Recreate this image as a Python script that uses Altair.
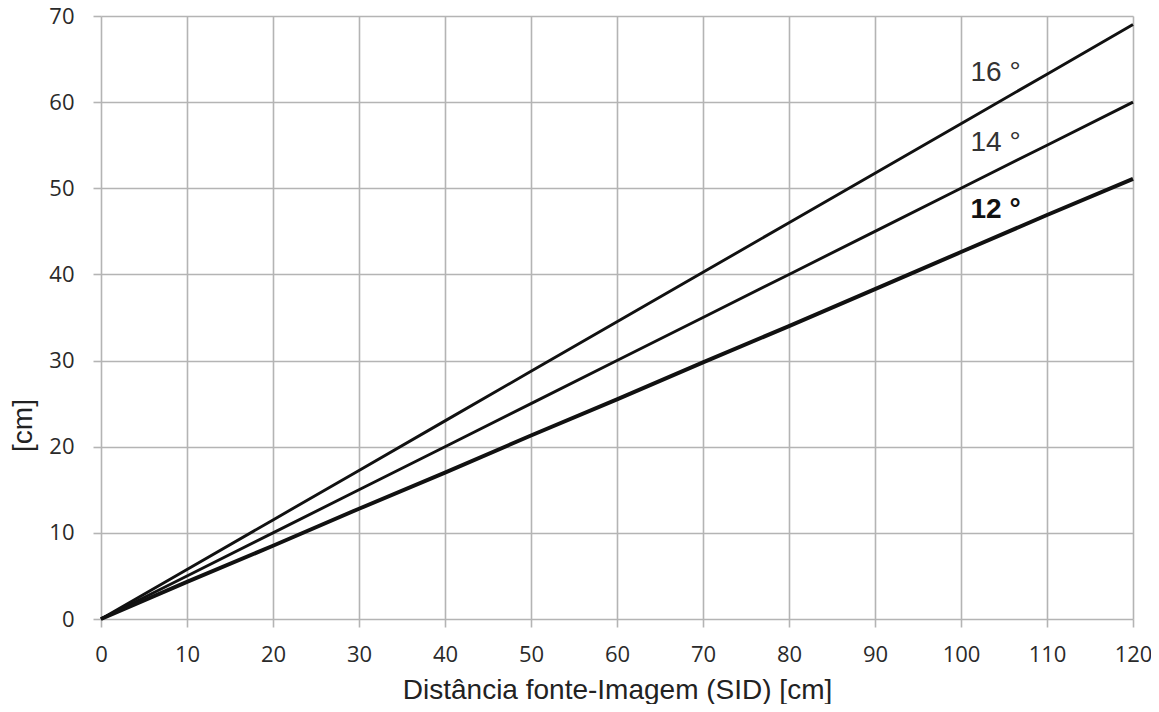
import altair as alt
import pandas as pd

sid = [0, 10, 20, 30, 40, 50, 60, 70, 80, 90, 100, 110, 120]
y16 = [0, 5.75, 11.5, 17.25, 23.0, 28.75, 34.5, 40.25, 46.0, 51.75, 57.5, 63.25, 69.0]
y14 = [0, 5.0, 10.0, 15.0, 20.0, 25.0, 30.0, 35.0, 40.0, 45.0, 50.0, 55.0, 60.0]
y12 = [0, 4.3, 8.5, 12.8, 17.0, 21.3, 25.5, 29.8, 34.0, 38.3, 42.6, 46.9, 51.1]

labels = ["16 °", "14 °", "12 °"]
label_x = [101.1, 101.1, 101.1]
label_y = [63.4, 55.3, 47.5]
label_weight = ["normal", "normal", "bold"]

rows = []
for name, ys, w in [("16°", y16, 2.9), ("14°", y14, 2.9), ("12°", y12, 4.0)]:
    for x, y in zip(sid, ys):
        rows.append({"sid": x, "cm": y, "angle": name, "w": w})
df = pd.DataFrame(rows)

lab = pd.DataFrame({"text": labels, "x": label_x, "y": label_y, "weight": label_weight})

xscale = alt.Scale(domain=[0, 120], nice=False)
yscale = alt.Scale(domain=[0, 70], nice=False)

font = "Open Sans"
tfont = "Liberation Sans"

lines = alt.Chart(df).mark_line(color="#111111").encode(
    x=alt.X("sid:Q", scale=xscale,
            axis=alt.Axis(values=list(range(0, 121, 10)), title="Distância fonte-Imagem (SID) [cm]",
                          grid=True, gridColor="#b4b4b4", gridWidth=1.6, domain=False,
                          tickColor="#b4b4b4", tickSize=8, tickWidth=1.6, labelFlush=False,
                          labelFont=font, labelFontSize=22, labelColor="#2a2a2a", labelPadding=17,
                          titleFont=tfont, titleFontSize=28, titleFontWeight="normal",
                          titleColor="#222222", titleBaseline="alphabetic", titleY=79)),
    y=alt.Y("cm:Q", scale=yscale,
            axis=alt.Axis(values=list(range(0, 71, 10)), title="[cm]",
                          grid=True, gridColor="#b4b4b4", gridWidth=1.6, domain=False,
                          tickColor="#b4b4b4", tickSize=8, tickWidth=1.6, labelFlush=False,
                          labelFont=font, labelFontSize=22, labelColor="#2a2a2a", labelPadding=19,
                          titleFont=tfont, titleFontSize=28, titleFontWeight="normal",
                          titleColor="#222222", titleAngle=-90, titleBaseline="alphabetic",
                          titleAlign="center", titleX=-70, titleY=409)),
    detail="angle:N",
    strokeWidth=alt.StrokeWidth("w:Q", scale=None, legend=None),
)

base_text = alt.Chart(lab).encode(
    x=alt.X("x:Q", scale=xscale),
    y=alt.Y("y:Q", scale=yscale),
    text="text:N",
)
text_normal = base_text.transform_filter(alt.datum.weight == "normal").mark_text(
    align="left", baseline="middle", font=tfont, fontSize=28, color="#333333")
text_bold = base_text.transform_filter(alt.datum.weight == "bold").mark_text(
    align="left", baseline="middle", font=tfont, fontSize=28, color="#111111",
    fontWeight="bold")

chart = alt.layer(lines, text_normal, text_bold).properties(
    width=1032, height=603,
    background="white",
    autosize=alt.AutoSizeParams(type="none"),
    padding={"left": 93, "top": 8, "right": 18, "bottom": 85},
).configure_view(stroke=None)

chart.save("out.html", embed_options={"renderer": "svg", "actions": False})
